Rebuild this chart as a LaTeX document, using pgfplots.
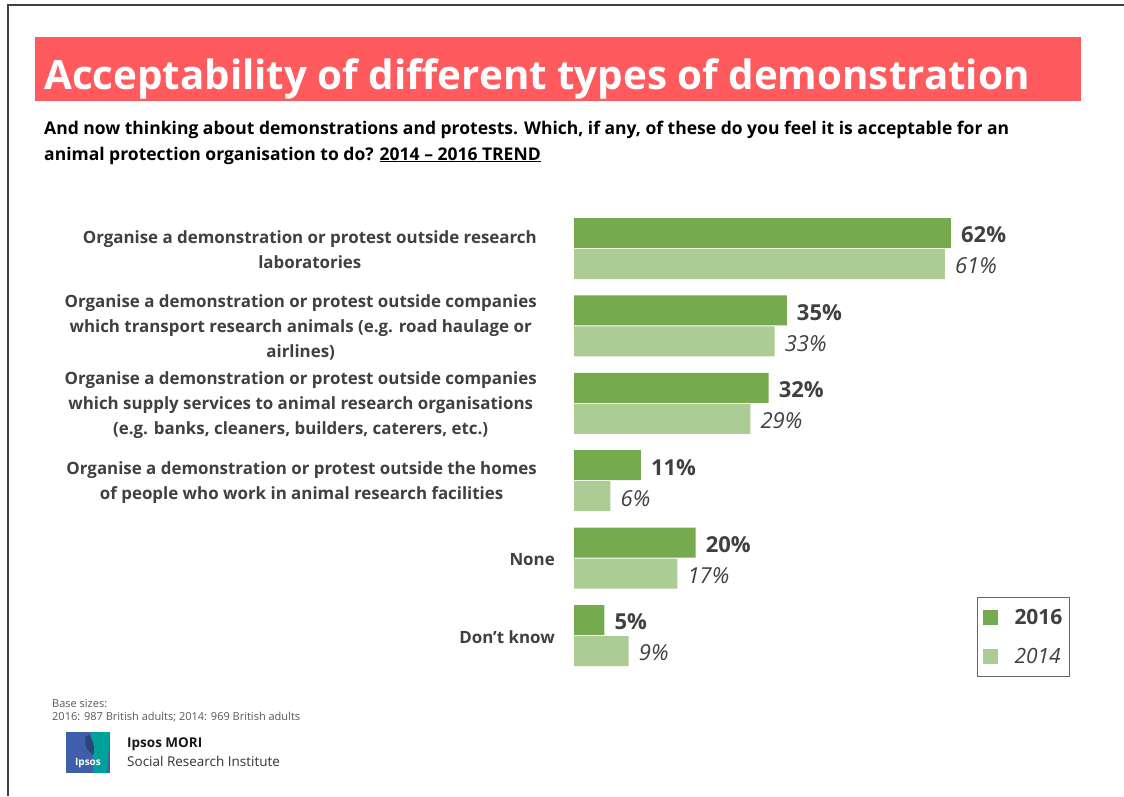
\documentclass[border=0pt]{standalone}
\usepackage{fontspec}
\setmainfont{Open Sans}
\usepackage{pgfplots}
\pgfplotsset{compat=1.18}
\definecolor{dg}{HTML}{75AA4F}
\definecolor{lg}{HTML}{ABCD95}
\definecolor{tred}{HTML}{FF5A5E}
\definecolor{txt}{HTML}{404040}
\definecolor{ipblue}{HTML}{3F5FAA}
\definecolor{ipteal}{HTML}{00A19B}
\newcommand{\R}{\rule{18pt}{0pt}}
\begin{document}
\begin{tikzpicture}[x=1pt,y=-1pt]
\fill[white] (0,0) rectangle (1124,796);
\draw[line width=1.5pt, black!75] (8,796) -- (8,5) -- (1124,5);
\fill[tred] (35,37) rectangle (1081,101);
\node[anchor=base west, inner sep=0, text=white, font=\fontsize{40.3}{48}\selectfont\bfseries] at (44,89) {Acceptability of different types of demonstration};
\node[anchor=base west, inner sep=0, font=\fontsize{17.5}{20}\selectfont\bfseries] at (44,134) {And now thinking about demonstrations and protests. Which, if any, of these do you feel it is acceptable for an};
\node[anchor=base west, inner sep=0, font=\fontsize{17.5}{20}\selectfont\bfseries] at (44,160) {animal protection organisation to do? \underline{2014 -- 2016 TREND}};
\node[anchor=base west, inner sep=0, text=black!65, font=\fontsize{11}{13}\selectfont] at (52,707) {Base sizes:};
\node[anchor=base west, inner sep=0, text=black!65, font=\fontsize{11}{13}\selectfont] at (52,720) {2016: 987 British adults; 2014: 969 British adults};
% logo
\fill[ipblue] (66,732) rectangle (110,773);
\fill[ipteal] (91,732) -- (110,732) -- (107,773) -- (93,773) -- (93,755) .. controls (96,748) and (90,740) .. (91,732) -- cycle;
\fill[ipblue!70!black] (86,736) .. controls (84,742) and (86,750) .. (90,752) -- (93,755) .. controls (96,748) and (92,738) .. (89,735) -- cycle;
\node[text=white, font=\fontsize{10}{12}\selectfont\bfseries, inner sep=0] at (88,763) {Ipsos};
\node[anchor=base west, inner sep=0, text=black!90, font=\fontsize{13.5}{16}\selectfont\bfseries] at (127,747) {Ipsos MORI};
\node[anchor=base west, inner sep=0, text=black!80, font=\fontsize{13.5}{16}\selectfont] at (127,766) {Social Research Institute};
\begin{axis}[at={(574pt,-674.2pt)}, anchor=south west, scale only axis,
  width=547.2pt, height=464.4pt, xmin=0, xmax=90, ymin=-0.5, ymax=5.5,
  xbar, bar width=30pt, axis line style={draw=none}, xtick=\empty,
  ytick={0,...,5}, major tick length=0pt,
  /pgf/number format/assume math mode=true,
  yticklabels={{Don’t know},{None},{Organise a demonstration or protest outside the homes\R\\of people who work in animal research facilities\R},{Organise a demonstration or protest outside companies\R\\which supply services to animal research organisations\R\\(e.g. banks, cleaners, builders, caterers, etc.)\R},{Organise a demonstration or protest outside companies\R\\which transport research animals (e.g. road haulage or\R\\airlines)\R},{Organise a demonstration or protest outside research\R\\laboratories\R}},
  yticklabel style={align=center, font=\fontsize{16.9}{25}\selectfont\bfseries, text=txt, inner sep=0pt, xshift=-19pt, yshift=-1.5pt},
  point meta=x,
  nodes near coords={\pgfmathprintnumber{\pgfplotspointmeta}\%},
  every node near coord/.append style={anchor=west, inner sep=0pt, xshift=10pt, yshift=-2pt, text=txt},
  legend style={at={(axis cs:66.3,-0.536)}, anchor=south west, draw=black!60, line width=0.8pt, font=\fontsize{21}{25}\selectfont, text=txt, row sep=18pt, inner xsep=5pt, inner ysep=10pt},
  legend cell align=left,
  clip=false]
\addplot[fill=dg, draw=none, bar shift=15.5pt, nodes near coords style={font=\fontsize{22}{26}\selectfont\bfseries},
  legend image code/.code={\fill[dg] (0pt,-7.5pt) rectangle (15pt,7.5pt); \path (30pt,0pt);}]
  coordinates {(62,5) (35,4) (32,3) (11,2) (20,1) (5,0)};
\addlegendentry{\textbf{2016}}
\addplot[fill=lg, draw=none, bar shift=-15.5pt, nodes near coords style={font=\fontsize{22}{26}\selectfont\itshape},
  legend image code/.code={\fill[lg] (0pt,-7.5pt) rectangle (15pt,7.5pt); \path (30pt,0pt);}]
  coordinates {(61,5) (33,4) (29,3) (6,2) (17,1) (9,0)};
\addlegendentry{\textit{2014}}
\end{axis}
\pgfresetboundingbox
\path[use as bounding box] (0,0) rectangle (1124,796);
\end{tikzpicture}
\end{document}
